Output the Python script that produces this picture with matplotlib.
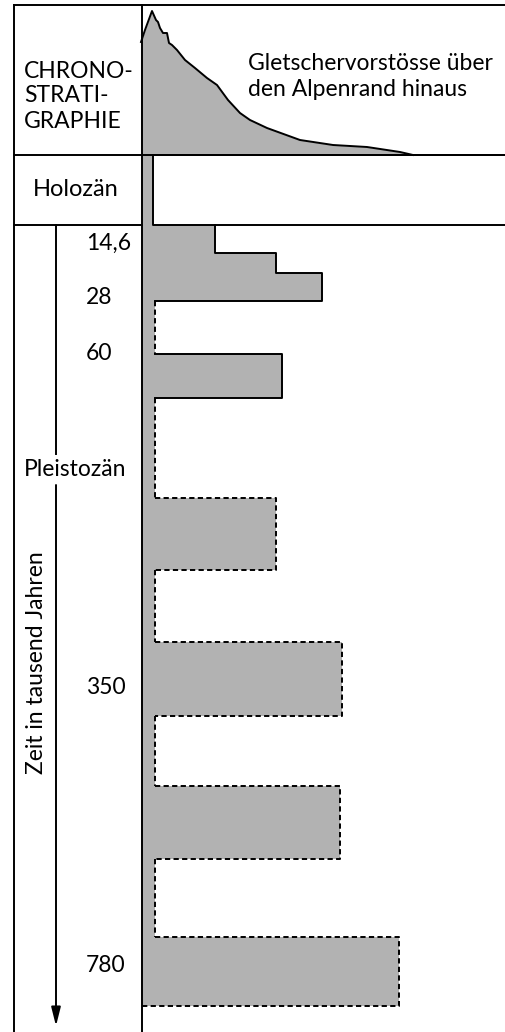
import matplotlib
matplotlib.use("Agg")
import matplotlib.pyplot as plt

# glacier advance curve in the header (schematic units, y grows downward)
curve_x = [141, 145, 152, 156, 158, 160, 163, 167, 169, 172, 177, 185, 195, 207,
           217, 228, 240, 250, 267, 300, 333, 367, 400, 413]
curve_y = [42, 30, 11, 20, 22, 28, 33, 33, 43, 45, 50, 60, 68, 78,
           85, 100, 113, 120, 128, 140, 145, 147, 152, 155]

# late pleistocene stepped advance (certain)
step_top = [225, 253, 273]
step_bottom = [253, 273, 301]
step_right = [215, 276, 322]

# older advances
adv_top = [354, 498, 642, 786, 937]
adv_bottom = [398, 570, 716, 859, 1006]
adv_right = [282, 276, 342, 340, 399]
adv_certain = [True, False, False, False, False]

age_labels = ['14,6', '28', '60', '350', '780']
age_pos = [243, 297, 353, 688, 966]

W, H = 505, 1032
GRAY = '#b2b2b2'
LW = 1.4
DASH = (0, (2.7, 1.7))
FONT = 'Lato'
FS = 16.5

fig = plt.figure(figsize=(W / 100, H / 100), dpi=100)
ax = fig.add_axes([0, 0, 1, 1])
ax.set_xlim(0, W)
ax.set_ylim(H, 0)
ax.axis('off')

x_left, x_div, x_base = 14, 142, 155

# frame
ax.plot([x_left, W], [5, 5], color='k', lw=LW)
ax.plot([x_left, x_left], [5, H], color='k', lw=LW)
ax.plot([x_div, x_div], [5, H], color='k', lw=LW)
ax.plot([x_left, W], [155, 155], color='k', lw=LW)
ax.plot([x_left, x_div], [225, 225], color='k', lw=LW)

# header curve
ax.fill_between(curve_x, curve_y, 155, color=GRAY, lw=0)
ax.plot(curve_x, curve_y, color='k', lw=LW)

# base column (holocene + pleistocene)
ax.fill_betweenx([155, adv_bottom[-1]], x_div, x_base - 2, color=GRAY, lw=0)
ax.fill_betweenx([225, adv_bottom[-1]], x_div, x_base, color=GRAY, lw=0)

# holocene box
ax.plot([W, 153, 153, W], [155, 155, 225, 225], color='k', lw=LW)

# stepped advance
for t, b, r in zip(step_top, step_bottom, step_right):
    ax.fill_betweenx([t, b], x_base, r, color=GRAY, lw=0)
sx = [step_right[0]]
sy = [step_top[0]]
for t, b, r in zip(step_top, step_bottom, step_right):
    sx += [r, r]
    sy += [t, b]
sx.append(x_base)
sy.append(step_bottom[-1])
ax.plot(sx, sy, color='k', lw=LW)

# older advances
prev_bottom = step_bottom[-1]
for t, b, r, ok in zip(adv_top, adv_bottom, adv_right, adv_certain):
    ax.fill_betweenx([t, b], x_base, r, color=GRAY, lw=0)
    ax.plot([x_base, x_base], [prev_bottom, t], color='k', lw=LW, ls=DASH)
    end_x = x_div if b == adv_bottom[-1] else x_base
    ax.plot([x_base, r, r, end_x], [t, t, b, b], color='k', lw=LW,
            ls='-' if ok else DASH)
    prev_bottom = b

# texts
for i, s in enumerate(['CHRONO-', 'STRATI-', 'GRAPHIE']):
    ax.text(24, 71 + 25 * i, s, fontsize=FS, family=FONT, va='center', ha='left')
ax.text(248, 63, 'Gletschervorstösse über', fontsize=FS, family=FONT, va='center')
ax.text(248, 90, 'den Alpenrand hinaus', fontsize=FS, family=FONT, va='center')
ax.text(76, 190, 'Holozän', fontsize=17, family=FONT, va='center', ha='center')

for lab, y in zip(age_labels, age_pos):
    ax.text(86, y, lab, fontsize=FS, family=FONT, va='center', ha='left')

# time arrow
ax.plot([56, 56], [225, 454], color='k', lw=LW)
ax.annotate('', xy=(56, 1026), xytext=(56, 485),
            arrowprops=dict(arrowstyle='-|>,head_length=0.8,head_width=0.2',
                            color='k', lw=LW, mutation_scale=14,
                            shrinkA=0, shrinkB=0))
ax.text(75, 470, 'Pleistozän', fontsize=FS, family=FONT, va='center', ha='center')
ax.text(37, 663, 'Zeit in tausend Jahren', fontsize=FS, family=FONT,
        va='center', ha='center', rotation=90)

fig.savefig('out.png', dpi=100)
